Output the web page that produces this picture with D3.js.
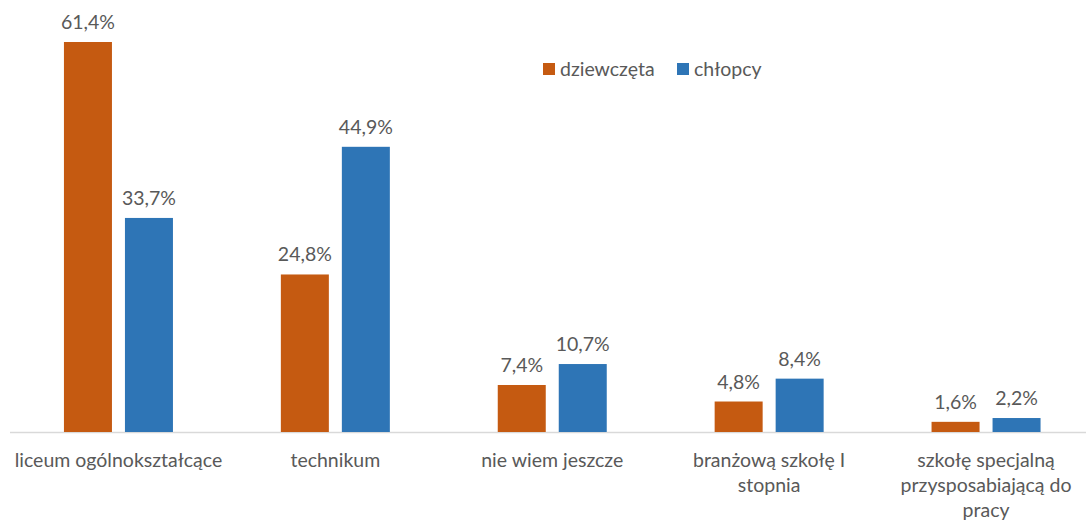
<!DOCTYPE html>
<html>
<head>
<meta charset="utf-8">
<script src="https://cdn.jsdelivr.net/npm/d3@7"></script>
<style>
  html, body { margin: 0; padding: 0; background: #ffffff; }
  svg { display: block; }
  text { font-family: Lato, "Open Sans", sans-serif; fill: #595959; }
</style>
</head>
<body>
<svg id="chart" width="1086" height="521"></svg>
<script>
const categories = [
  "liceum ogólnokształcące",
  "technikum",
  "nie wiem jeszcze",
  "branżową szkołę I\nstopnia",
  "szkołę specjalną\nprzysposabiającą do\npracy"
];
const seriesNames = ["dziewczęta", "chłopcy"];
const girls = [61.4, 24.8, 7.4, 4.8, 1.6];
const boys = [33.7, 44.9, 10.7, 8.4, 2.2];
const colors = ["#C55A11", "#2E75B6"];

const W = 1086, H = 521;
const plot = { left: 10, right: 1094.5, top: 42, bottom: 432 };
const fontSize = 19.5;

const svg = d3.select("#chart");

const x = d3.scaleBand()
  .domain(categories)
  .range([plot.left, plot.right])
  .paddingInner(0)
  .paddingOuter(0);

const barW = 48, innerGap = 13;
const x1 = d3.scaleOrdinal().domain(seriesNames)
  .range([-(barW + innerGap / 2), innerGap / 2]);

const y = d3.scaleLinear().domain([0, 61.4]).range([plot.bottom, plot.top]);

const data = categories.map((c, i) => ({ cat: c, vals: [girls[i], boys[i]] }));

// axis line
svg.append("line")
  .attr("x1", plot.left).attr("x2", W)
  .attr("y1", plot.bottom + 0.5).attr("y2", plot.bottom + 0.5)
  .attr("stroke", "#D9D9D9").attr("stroke-width", 1.3);

const groups = svg.selectAll("g.grp").data(data).enter().append("g")
  .attr("class", "grp")
  .attr("transform", d => `translate(${x(d.cat) + x.bandwidth() / 2},0)`);

const fmt = v => d3.format(".1f")(v).replace(".", ",") + "%";

seriesNames.forEach((s, si) => {
  groups.append("rect")
    .attr("x", x1(s))
    .attr("y", d => y(d.vals[si]))
    .attr("width", barW)
    .attr("height", d => plot.bottom - y(d.vals[si]))
    .attr("fill", colors[si]);
  groups.append("text")
    .attr("x", x1(s) + barW / 2)
    .attr("y", d => y(d.vals[si]) - 13)
    .attr("text-anchor", "middle")
    .attr("font-size", fontSize)
    .text(d => fmt(d.vals[si]));
});

// category labels
const axis = d3.axisBottom(x).tickSize(0).tickPadding(0);
const axisG = svg.append("g").attr("transform", `translate(0,${plot.bottom})`).call(axis);
axisG.select(".domain").remove();
axisG.selectAll(".tick text").each(function(d) {
  const t = d3.select(this);
  t.text(null).attr("y", 0).attr("dy", null)
    .attr("font-size", fontSize).attr("fill", "#595959")
    .style("font-family", "Lato, 'Open Sans', sans-serif");
  d.split("\n").forEach((line, i) => {
    t.append("tspan").attr("x", 0).attr("y", 35 + i * 25).text(line);
  });
});

// legend
const legend = svg.append("g");
const legendItems = [
  { name: seriesNames[0], color: colors[0], x: 543 },
  { name: seriesNames[1], color: colors[1], x: 677 }
];
legendItems.forEach(it => {
  legend.append("rect").attr("x", it.x).attr("y", 63).attr("width", 12).attr("height", 12).attr("fill", it.color);
  legend.append("text").attr("x", it.x + 17).attr("y", 76).attr("font-size", fontSize).text(it.name);
});
</script>
</body>
</html>
